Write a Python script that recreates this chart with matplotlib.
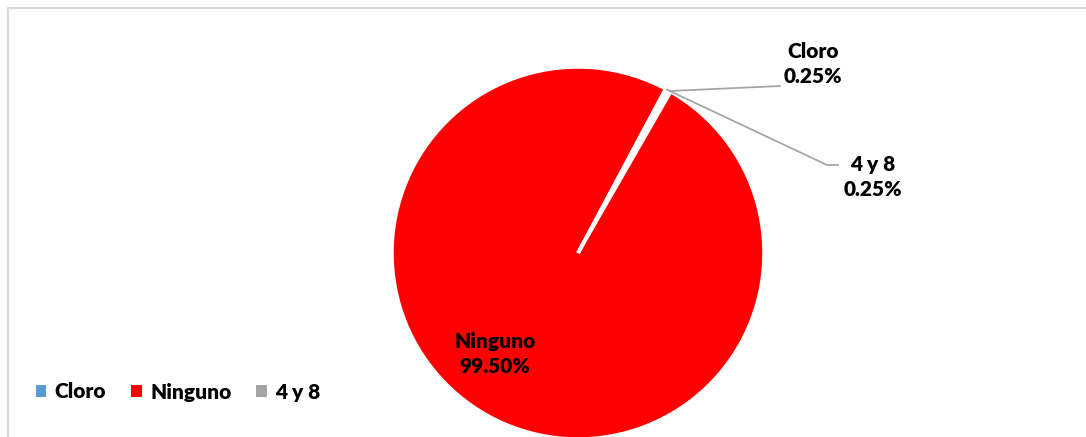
import numpy as np
import matplotlib.pyplot as plt
from matplotlib.patches import Patch

# Datos del gráfico
categorias = ["Cloro", "Ninguno", "4 y 8"]
porcentajes = [0.25, 99.50, 0.25]
colores = ["#5B9BD5", "#FF0000", "#A5A5A5"]

plt.rcParams["font.family"] = ["Lato", "DejaVu Sans"]
peso = "heavy"

ancho, alto = 1086, 437
fig = plt.figure(figsize=(ancho / 100, alto / 100), dpi=100)
ax = fig.add_axes([0, 0, 1, 1])

# Pastel en coordenadas de pixel (y hacia arriba)
centro = (578, alto - 253)
radio = 186
cuñas, _ = ax.pie(
    porcentajes,
    colors=colores,
    startangle=61,
    counterclock=False,
    center=centro,
    radius=radio,
    wedgeprops=dict(edgecolor="white", linewidth=2.5),
)
ax.set_xlim(0, ancho)
ax.set_ylim(0, alto)
ax.set_aspect("equal")
ax.axis("off")

# Marco del area del gráfico
ax.plot([7.5, 7.5, ancho], [0, alto - 7.5, alto - 7.5], color="#D9D9D9", lw=1.5,
        clip_on=False, solid_capstyle="butt")

# Etiquetas de datos
fmt = lambda v: f"{v:.2f}%"
posiciones = {
    "Cloro": (813, alto - 64),
    "4 y 8": (873, alto - 177),
    "Ninguno": (495, alto - 354),
}
codos = {
    "Cloro": [(780, alto - 86)],
    "4 y 8": [(827, alto - 165), (838, alto - 165)],
}
for cuña, cat, val in zip(cuñas, categorias, porcentajes):
    x, y = posiciones[cat]
    ax.text(x, y, f"{cat}\n{fmt(val)}", ha="center", va="center", fontsize=15,
            fontweight=peso, linespacing=1.35, color="black")
    if cat in codos:
        ang = np.deg2rad((cuña.theta1 + cuña.theta2) / 2)
        x0 = centro[0] + radio * np.cos(ang)
        y0 = centro[1] + radio * np.sin(ang)
        xs = [x0] + [p[0] for p in codos[cat]]
        ys = [y0] + [p[1] for p in codos[cat]]
        ax.plot(xs, ys, color="#A6A6A6", lw=1.3)

# Leyenda
manijas = [Patch(facecolor=c, edgecolor="none") for c in colores]
ax.legend(manijas, categorias, ncol=3, loc="center left",
          bbox_to_anchor=(36 / ancho, 1 - 392 / alto),
          bbox_transform=fig.transFigure, frameon=False,
          prop=dict(size=15, weight=peso),
          handlelength=0.5, handleheight=0.5, handletextpad=0.4,
          columnspacing=1.2, borderaxespad=0, borderpad=0)

fig.savefig("out.png", dpi=100)
